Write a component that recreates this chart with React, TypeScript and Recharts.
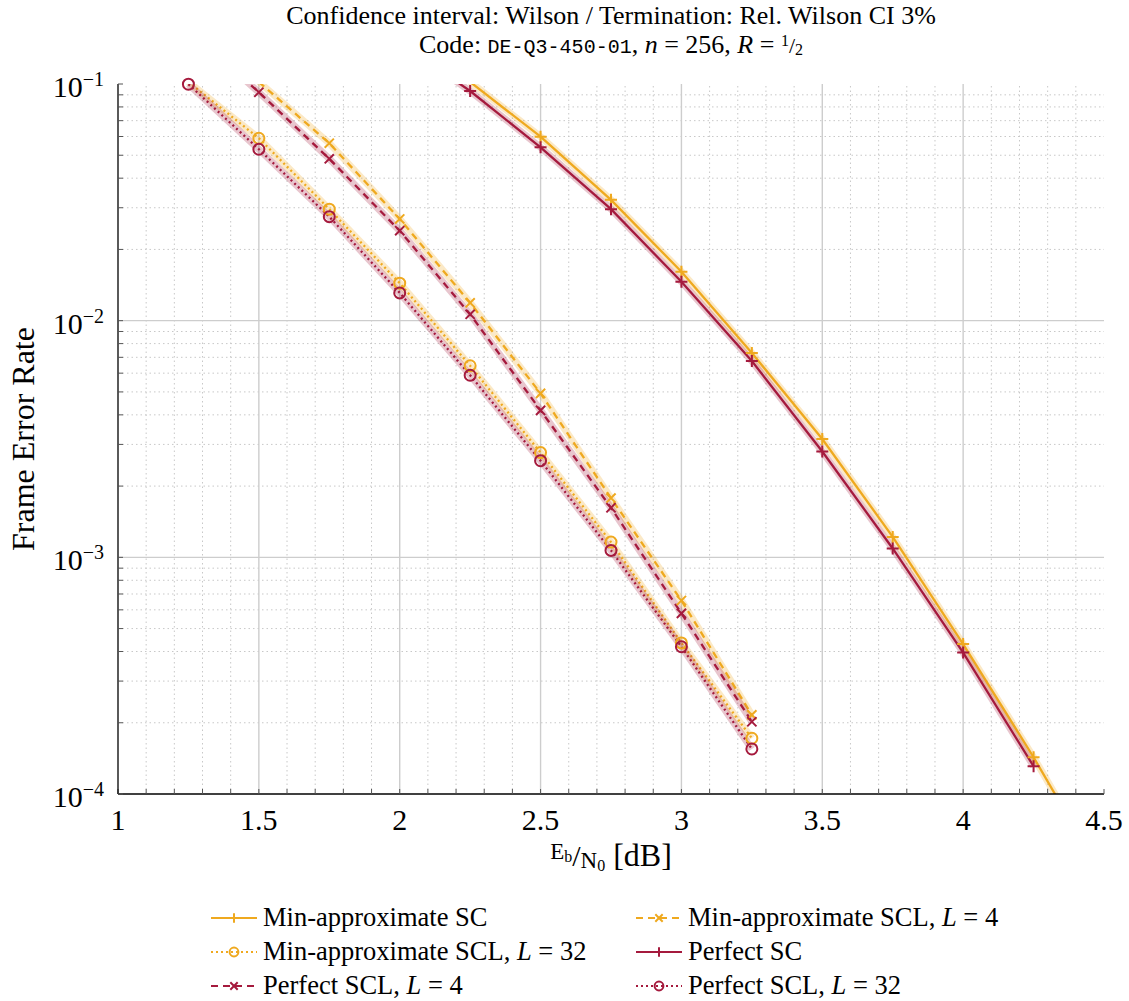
import React from 'react';
import { LineChart, Line, XAxis, YAxis, ReferenceLine } from 'recharts';

// Eb/N0 grid points [dB] and frame error rates per decoder
const SNR_MIN_SC = [2.25, 2.5, 2.75, 3, 3.25, 3.5, 3.75, 4, 4.25, 4.5];
const FER_MIN_SC = [0.102, 0.0599, 0.0324, 0.0161, 0.0073, 0.00316, 0.00122, 0.00043, 0.000143, 0.000044];

const SNR_MIN_SCL4 = [1.5, 1.75, 2, 2.25, 2.5, 2.75, 3, 3.25];
const FER_MIN_SCL4 = [0.102, 0.0562, 0.0269, 0.0119, 0.00493, 0.00178, 0.000657, 0.000216];

const SNR_MIN_SCL32 = [1.25, 1.5, 1.75, 2, 2.25, 2.5, 2.75, 3, 3.25];
const FER_MIN_SCL32 = [0.102, 0.059, 0.0296, 0.0144, 0.00645, 0.00277, 0.00116, 0.000435, 0.000172];

const SNR_PERFECT_SC = [2, 2.25, 2.5, 2.75, 3, 3.25, 3.5, 3.75, 4, 4.25];
const FER_PERFECT_SC = [0.15, 0.0934, 0.054, 0.0296, 0.0146, 0.00675, 0.0028, 0.00109, 0.000396, 0.000131];

const SNR_PERFECT_SCL4 = [1.25, 1.5, 1.75, 2, 2.25, 2.5, 2.75, 3, 3.25];
const FER_PERFECT_SCL4 = [0.17, 0.0923, 0.0483, 0.024, 0.01064, 0.00418, 0.00162, 0.00058, 0.000202];

const SNR_PERFECT_SCL32 = [1.25, 1.5, 1.75, 2, 2.25, 2.5, 2.75, 3, 3.25];
const FER_PERFECT_SCL32 = [0.0998, 0.053, 0.0275, 0.0131, 0.00588, 0.00256, 0.00107, 0.000419, 0.000155];

// axis ticks
const X_DOMAIN = [1, 4.5];
const Y_DOMAIN = [1e-4, 1e-1];
const X_MAJOR = [1, 1.5, 2, 2.5, 3, 3.5, 4, 4.5];
const X_MINOR = [
  1.1, 1.2, 1.3, 1.4, 1.6, 1.7, 1.8, 1.9, 2.1, 2.2, 2.3, 2.4, 2.6, 2.7, 2.8, 2.9,
  3.1, 3.2, 3.3, 3.4, 3.6, 3.7, 3.8, 3.9, 4.1, 4.2, 4.3, 4.4,
];
const Y_MAJOR = [1e-4, 1e-3, 1e-2, 1e-1];
const Y_MINOR = [1e-4, 1e-3, 1e-2].flatMap((d) => [2, 3, 4, 5, 6, 7, 8, 9].map((m) => m * d));

const ORANGE = '#EFA91F';
const CRIMSON = '#A51A3D';
const SERIF = '"Liberation Serif", "Times New Roman", serif';
const MONO = '"Liberation Mono", "DejaVu Sans Mono", monospace';
const EQ = '\u2005=\u2005';

type MarkerKind = 'plus' | 'cross' | 'circle';

interface Series {
  name: string;
  listSize?: number;
  snr: number[];
  fer: number[];
  color: string;
  dash?: string;
  marker: MarkerKind;
}

const SERIES: Series[] = [
  { name: 'Min-approximate SC', snr: SNR_MIN_SC, fer: FER_MIN_SC, color: ORANGE, marker: 'plus' },
  { name: 'Min-approximate SCL', listSize: 4, snr: SNR_MIN_SCL4, fer: FER_MIN_SCL4, color: ORANGE, dash: '7 5', marker: 'cross' },
  { name: 'Min-approximate SCL', listSize: 32, snr: SNR_MIN_SCL32, fer: FER_MIN_SCL32, color: ORANGE, dash: '2 3', marker: 'circle' },
  { name: 'Perfect SC', snr: SNR_PERFECT_SC, fer: FER_PERFECT_SC, color: CRIMSON, marker: 'plus' },
  { name: 'Perfect SCL', listSize: 4, snr: SNR_PERFECT_SCL4, fer: FER_PERFECT_SCL4, color: CRIMSON, dash: '7 5', marker: 'cross' },
  { name: 'Perfect SCL', listSize: 32, snr: SNR_PERFECT_SCL32, fer: FER_PERFECT_SCL32, color: CRIMSON, dash: '2 3', marker: 'circle' },
];

const toPoints = (s: Series) => s.snr.map((snr, i) => ({ snr, fer: s.fer[i] }));
const inRange = (p: { fer: number }) => p.fer >= Y_DOMAIN[0] && p.fer <= Y_DOMAIN[1];

function Marker({ kind, x, y, color, size = 1 }: { kind: MarkerKind; x: number; y: number; color: string; size?: number }) {
  if (kind === 'plus') {
    const a = 6 * size;
    return <path d={`M${x - a},${y}H${x + a}M${x},${y - a}V${y + a}`} stroke={color} strokeWidth={2} fill="none" />;
  }
  if (kind === 'cross') {
    const a = 4.6 * size;
    return (
      <path
        d={`M${x - a},${y - a}L${x + a},${y + a}M${x - a},${y + a}L${x + a},${y - a}`}
        stroke={color}
        strokeWidth={2}
        fill="none"
      />
    );
  }
  return <circle cx={x} cy={y} r={5.5 * size} stroke={color} strokeWidth={2} fill="none" />;
}

const makeDot = (s: Series) => (props: any) => {
  const { cx, cy, index } = props;
  return (
    <g key={`${s.name}-${s.listSize ?? 0}-${index}`}>
      <Marker kind={s.marker} x={cx} y={cy} color={s.color} />
    </g>
  );
};

const renderXTick = (props: any) => {
  const { x, y, payload } = props;
  if (!X_MAJOR.includes(payload.value)) return <g />;
  return (
    <text x={x} y={y} textAnchor="middle" fontSize={30} fontFamily={SERIF} fill="#000">
      {payload.value}
    </text>
  );
};

const renderYTick = (props: any) => {
  const { x, y, payload } = props;
  if (!Y_MAJOR.includes(payload.value)) return <g />;
  const exp = Math.round(Math.log10(payload.value));
  return (
    <text x={x} y={y + 13} textAnchor="end" fontSize={30} fontFamily={SERIF} fill="#000">
      <tspan>10</tspan>
      <tspan dy={-11} fontSize={20}>
        {'\u2212' + Math.abs(exp)}
      </tspan>
    </text>
  );
};

const renderNoLabel = () => <g />;

function LegendEntry({ s, x, y }: { s: Series; x: number; y: number }) {
  return (
    <g>
      <line x1={x} y1={y} x2={x + 46} y2={y} stroke={s.color} strokeWidth={2.2} strokeDasharray={s.dash} />
      <Marker kind={s.marker} x={x + 23} y={y} color={s.color} size={0.8} />
      <text x={x + 52} y={y + 8} fontSize={26.5} fontFamily={SERIF} fill="#000">
        {s.name}
        {s.listSize !== undefined && (
          <>
            {', '}
            <tspan fontStyle="italic">L</tspan>
            {EQ + s.listSize}
          </>
        )}
      </text>
    </g>
  );
}

export default function App() {
  const gridMinor = { stroke: '#c8c8c8', strokeWidth: 1, strokeDasharray: '1.5 3' };
  const gridMajor = { stroke: '#cdcdcd', strokeWidth: 1.4 };
  const tickLine = { stroke: '#555', strokeWidth: 1 };
  const frame = { stroke: '#000', strokeWidth: 1.3 };

  return (
    <div style={{ position: 'absolute', left: 0, top: 0, width: 1129, height: 1001, background: '#fff' }}>
      <LineChart width={1129} height={1001} margin={{ top: 84, right: 25, bottom: 127, left: 0 }}>
        <XAxis
          xAxisId={0}
          dataKey="snr"
          type="number"
          domain={X_DOMAIN}
          ticks={[...X_MAJOR, ...X_MINOR]}
          interval={0}
          tickSize={-5}
          tickMargin={41}
          tick={renderXTick}
          tickLine={tickLine}
          axisLine={frame}
          height={80}
        />
        <XAxis
          xAxisId="top"
          orientation="top"
          dataKey="snr"
          type="number"
          domain={X_DOMAIN}
          ticks={[...X_MAJOR, ...X_MINOR]}
          interval={0}
          tickSize={-5}
          tick={renderNoLabel}
          tickLine={tickLine}
          axisLine={frame}
          height={0}
        />
        <YAxis
          yAxisId={0}
          type="number"
          scale="log"
          domain={Y_DOMAIN}
          allowDataOverflow
          ticks={[...Y_MAJOR, ...Y_MINOR]}
          interval={0}
          tickSize={-5}
          tickMargin={19}
          tick={renderYTick}
          tickLine={tickLine}
          axisLine={frame}
          width={118}
        />
        <YAxis
          yAxisId="right"
          orientation="right"
          type="number"
          scale="log"
          domain={Y_DOMAIN}
          ticks={[...Y_MAJOR, ...Y_MINOR]}
          interval={0}
          tickSize={-5}
          tick={renderNoLabel}
          tickLine={tickLine}
          axisLine={frame}
          width={0}
        />

        {X_MINOR.map((v) => (
          <ReferenceLine key={`xm-${v}`} x={v} {...gridMinor} />
        ))}
        {Y_MINOR.map((v) => (
          <ReferenceLine key={`ym-${v}`} y={v} {...gridMinor} />
        ))}
        {X_MAJOR.slice(1, -1).map((v) => (
          <ReferenceLine key={`xM-${v}`} x={v} {...gridMajor} />
        ))}
        {Y_MAJOR.slice(1, -1).map((v) => (
          <ReferenceLine key={`yM-${v}`} y={v} {...gridMajor} />
        ))}

        {SERIES.map((s) => {
          const id = `${s.name}-${s.listSize ?? 0}`;
          const pts = toPoints(s);
          return [
            <Line
              key={`${id}-band`}
              data={pts}
              dataKey="fer"
              type="linear"
              stroke={s.color}
              strokeOpacity={0.25}
              strokeWidth={7}
              dot={false}
              activeDot={false}
              legendType="none"
              isAnimationActive={false}
            />,
            <Line
              key={`${id}-line`}
              data={pts}
              dataKey="fer"
              type="linear"
              stroke={s.color}
              strokeWidth={2.3}
              strokeDasharray={s.dash}
              dot={false}
              activeDot={false}
              isAnimationActive={false}
            />,
            <Line
              key={`${id}-marks`}
              yAxisId="right"
              data={pts.filter(inRange)}
              dataKey="fer"
              type="linear"
              stroke="none"
              dot={makeDot(s)}
              activeDot={false}
              legendType="none"
              isAnimationActive={false}
            />,
          ];
        })}
      </LineChart>

      <svg
        width={1129}
        height={1001}
        style={{ position: 'absolute', left: 0, top: 0, pointerEvents: 'none' }}
        fontFamily={SERIF}
      >
        <text x={611} y={24} textAnchor="middle" fontSize={26}>
          Confidence interval: Wilson / Termination: Rel. Wilson CI 3%
        </text>
        <text x={611} y={53} textAnchor="middle" fontSize={26}>
          {'Code: '}
          <tspan fontFamily={MONO} fontSize={20}>DE-Q3-450-01</tspan>
          {', '}
          <tspan fontStyle="italic">n</tspan>
          {EQ + '256, '}
          <tspan fontStyle="italic">R</tspan>
          {EQ}
          <tspan fontSize={16} dy={-7}>1</tspan>
          <tspan fontSize={22} dy={7}>/</tspan>
          <tspan fontSize={16} dy={2}>2</tspan>
        </text>

        <text transform="translate(34,439) rotate(-90)" textAnchor="middle" fontSize={32}>
          Frame Error Rate
        </text>

        <text x={611} y={866} textAnchor="middle" fontSize={32}>
          <tspan fontSize={23} dy={-7}>E</tspan>
          <tspan fontSize={16} dy={3}>b</tspan>
          <tspan fontSize={30} dy={4}>/</tspan>
          <tspan fontSize={23} dy={2}>N</tspan>
          <tspan fontSize={16} dy={3}>0</tspan>
          <tspan dy={-5}>{' [dB]'}</tspan>
        </text>

        {SERIES.map((s, i) => (
          <LegendEntry key={i} s={s} x={i % 2 === 0 ? 211 : 636} y={918 + Math.floor(i / 2) * 34} />
        ))}
      </svg>
    </div>
  );
}
